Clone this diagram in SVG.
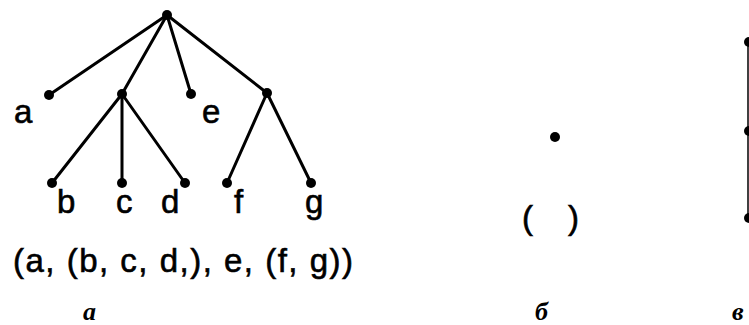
<svg xmlns="http://www.w3.org/2000/svg" width="749" height="325" viewBox="0 0 749 325">
<style>
.e{stroke:#000;stroke-width:3;stroke-linecap:round;fill:none}
.thin{stroke:#000;stroke-width:1.5;fill:none}
.dot{fill:#000}
.lbl{font-family:"Liberation Sans",Arial,sans-serif;font-size:33px;fill:#000;stroke:#000;stroke-width:0.6}
.cap{font-family:"Liberation Serif","Times New Roman",serif;font-style:italic;font-weight:bold;font-size:26px;fill:#000}
</style>
<rect width="749" height="325" fill="#fff"/>
<g id="connectors">
<line class="e" x1="167" y1="15" x2="49" y2="95"/>
<line class="e" x1="167" y1="15" x2="122" y2="94"/>
<line class="e" x1="167" y1="15" x2="191" y2="94"/>
<line class="e" x1="167" y1="15" x2="267" y2="93"/>
<line class="e" x1="122" y1="94" x2="52" y2="183"/>
<line class="e" x1="122" y1="94" x2="122" y2="183"/>
<line class="e" x1="122" y1="94" x2="185" y2="183"/>
<line class="e" x1="267" y1="93" x2="227" y2="183"/>
<line class="e" x1="267" y1="93" x2="311" y2="183"/>
<line class="thin" x1="748" y1="42" x2="748" y2="218"/>
</g>
<g id="root"><circle class="dot" cx="167" cy="15" r="5"/></g>
<g id="node-a"><circle class="dot" cx="49" cy="95" r="5"/><text class="lbl" x="14" y="123">a</text></g>
<g id="node-bcd"><circle class="dot" cx="122" cy="94" r="5"/></g>
<g id="node-e"><circle class="dot" cx="191" cy="94" r="5"/><text class="lbl" x="202" y="123">e</text></g>
<g id="node-fg"><circle class="dot" cx="267" cy="93" r="5"/></g>
<g id="node-b"><circle class="dot" cx="52" cy="183" r="5"/><text class="lbl" x="57" y="213">b</text></g>
<g id="node-c"><circle class="dot" cx="122" cy="183" r="5"/><text class="lbl" x="116" y="213">c</text></g>
<g id="node-d"><circle class="dot" cx="185" cy="183" r="5"/><text class="lbl" x="161" y="213">d</text></g>
<g id="node-f"><circle class="dot" cx="227" cy="183" r="5"/><text class="lbl" x="234" y="213">f</text></g>
<g id="node-g"><circle class="dot" cx="311" cy="183" r="5"/><text class="lbl" x="305" y="213">g</text></g>
<g id="list-a"><text class="lbl" x="13" y="272" textLength="340" lengthAdjust="spacing">(a, (b, c, d,), e, (f, g))</text></g>
<g id="cap-a"><text class="cap" x="83" y="320">а</text></g>
<g id="empty-dot"><circle class="dot" cx="555" cy="137" r="5"/></g>
<g id="empty-list"><text class="lbl" x="522" y="229">(</text><text class="lbl" x="568" y="229">)</text></g>
<g id="cap-b"><text class="cap" x="535" y="320">б</text></g>
<g id="chain">
<circle class="dot" cx="749" cy="42" r="5"/>
<circle class="dot" cx="749" cy="131" r="5"/>
<circle class="dot" cx="749" cy="218" r="5"/>
</g>
<g id="cap-v"><text class="cap" x="732" y="320">в</text></g>
</svg>
